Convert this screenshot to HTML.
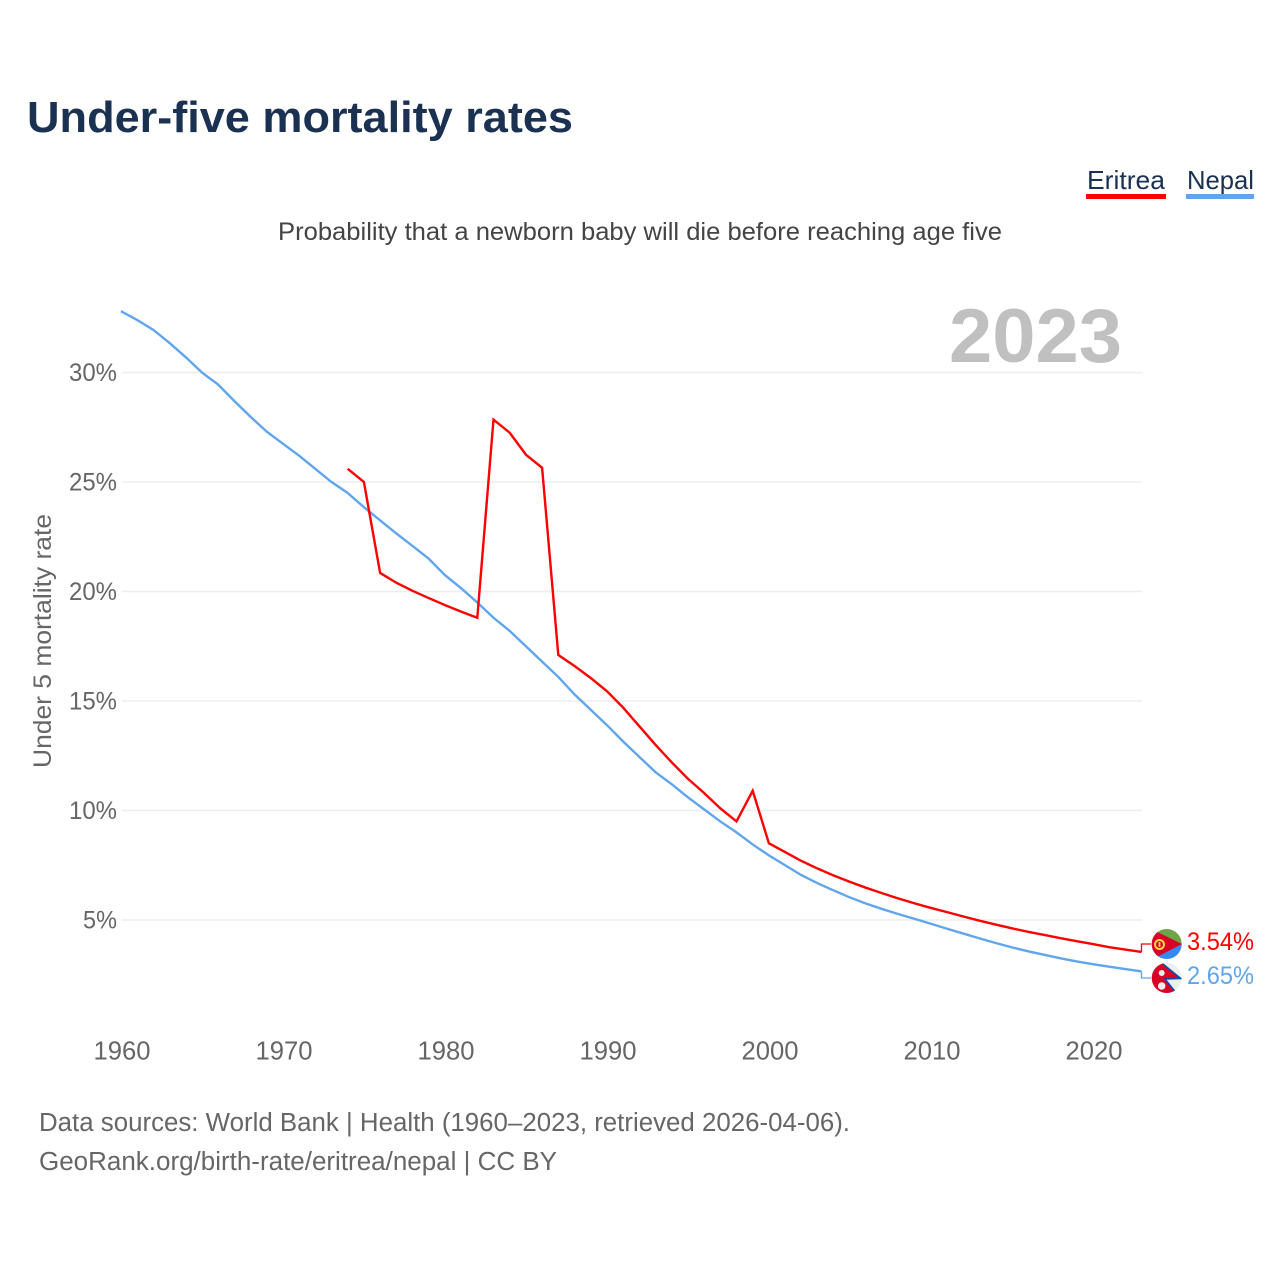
<!DOCTYPE html>
<html lang="en">
<head>
<meta charset="utf-8">
<title>Under-five mortality rates</title>
<style>
html,body{margin:0;padding:0;background:#fff;width:1280px;height:1280px;overflow:hidden}
svg{display:block;font-family:"Liberation Sans",sans-serif}
</style>
</head>
<body>
<svg id="chart" xmlns="http://www.w3.org/2000/svg" width="1280" height="1280" viewBox="0 0 1280 1280">
  <defs>
    <clipPath id="clip-er"><circle cx="1166.7" cy="944" r="15"/></clipPath>
    <clipPath id="clip-np"><circle cx="1166.7" cy="978" r="15"/></clipPath>
  </defs>
  <rect width="1280" height="1280" fill="#fff"/>
  <text x="27" y="132" font-size="44" font-weight="700" fill="#1a3152" textLength="546" lengthAdjust="spacingAndGlyphs">Under-five mortality rates</text>
  <g>
    <text x="1087" y="189" font-size="26" fill="#1a3152" textLength="78" lengthAdjust="spacingAndGlyphs">Eritrea</text>
    <rect x="1086" y="194" width="80" height="5" fill="#ff0000"/>
  </g>
  <g>
    <text x="1187" y="189" font-size="26" fill="#1a3152" textLength="67" lengthAdjust="spacingAndGlyphs">Nepal</text>
    <rect x="1186" y="194" width="68" height="5" fill="#60a5ee"/>
  </g>
  <text x="278" y="240" font-size="25" fill="#444" textLength="724" lengthAdjust="spacingAndGlyphs">Probability that a newborn baby will die before reaching age five</text>
  <text transform="translate(51,641) rotate(-90)" text-anchor="middle" font-size="25" fill="#666" textLength="254" lengthAdjust="spacingAndGlyphs">Under 5 mortality rate</text>
  <g id="grid"></g>
  <g id="yticks"></g>
  <g id="xticks"></g>
  <text x="949" y="362" font-size="76" font-weight="700" fill="#c0c0c0" textLength="173" lengthAdjust="spacingAndGlyphs">2023</text>
  <g id="series"></g>

  <g clip-path="url(#clip-er)">
    <rect x="1151" y="929" width="32" height="16" fill="#6da544"/>
    <rect x="1151" y="944" width="32" height="16" fill="#338af3"/>
    <polygon points="1151,929 1182,944 1151,960" fill="#d80027"/>
    <circle cx="1159.5" cy="944.5" r="4.5" fill="none" stroke="#ffda44" stroke-width="2"/>
    <rect x="1158.6" y="942" width="1.8" height="5" fill="#ffda44"/>
  </g>
  <g clip-path="url(#clip-np)">
    <rect x="1151" y="962" width="32" height="32" fill="#eeeeee"/>
    <polygon points="1150,960 1160.5,962 1180.7,978.5 1165,979 1177,994 1150,996" fill="#d80027" stroke="#0052b4" stroke-width="1.6"/>
    <circle cx="1161.7" cy="973" r="3" fill="#eeeeee"/>
    <circle cx="1161.7" cy="986" r="3.8" fill="#eeeeee"/>
  </g>
  <text x="1187" y="950" font-size="25" fill="#ff0000" textLength="67" lengthAdjust="spacingAndGlyphs">3.54%</text>
  <text x="1187" y="984" font-size="25" fill="#60a5ee" textLength="67" lengthAdjust="spacingAndGlyphs">2.65%</text>

  <text x="39" y="1131" font-size="25.5" fill="#666" textLength="811" lengthAdjust="spacingAndGlyphs">Data sources: World Bank | Health (1960–2023, retrieved 2026-04-06).</text>
  <text x="39" y="1170" font-size="25.5" fill="#666" textLength="518" lengthAdjust="spacingAndGlyphs">GeoRank.org/birth-rate/eritrea/nepal | CC BY</text>
</svg>
<script>
const nepalStartYear = 1960;
const nepalValues = [32.8,32.4,31.95,31.35,30.7,30.0,29.45,28.7,27.98,27.3,26.75,26.2,25.6,25.0,24.5,23.85,23.25,22.65,22.08,21.5,20.75,20.15,19.5,18.8,18.2,17.5,16.8,16.1,15.3,14.6,13.9,13.15,12.45,11.75,11.2,10.6,10.05,9.5,9.0,8.45,7.95,7.5,7.05,6.68,6.35,6.03,5.75,5.5,5.27,5.05,4.83,4.6,4.38,4.16,3.95,3.75,3.57,3.41,3.25,3.11,2.98,2.87,2.76,2.65];
const eritreaStartYear = 1974;
const eritreaValues = [25.6,25.0,20.85,20.4,20.03,19.7,19.38,19.08,18.8,27.85,27.25,26.25,25.65,17.1,16.6,16.05,15.45,14.7,13.85,13.0,12.2,11.45,10.8,10.1,9.5,10.9,8.5,8.1,7.7,7.35,7.03,6.74,6.47,6.22,5.98,5.76,5.55,5.36,5.16,4.97,4.79,4.62,4.46,4.32,4.17,4.03,3.9,3.76,3.65,3.54];
const yTickValues = [5,10,15,20,25,30];
const yTickLabels = ["5%","10%","15%","20%","25%","30%"];
const xTickValues = [1960,1970,1980,1990,2000,2010,2020];
const xTickLabels = ["1960","1970","1980","1990","2000","2010","2020"];

const SVGNS = "http://www.w3.org/2000/svg";
function xScale(year){ return 122 + (year - 1960) * 16.2; }
function lineX(year){ return xScale(year) - 1.1; }
function yScale(value){ return 920 - (value - 5) * 21.9; }
function make(tag, attrs){
  const el = document.createElementNS(SVGNS, tag);
  for (const k in attrs) el.setAttribute(k, attrs[k]);
  return el;
}

const grid = document.getElementById('grid');
const yticks = document.getElementById('yticks');
yTickValues.forEach(function(v, i){
  const line = make('line', {x1: 122, x2: 1142, y1: yScale(v), y2: yScale(v), stroke: '#eeeeee', 'stroke-width': 1.6});
  
  
  grid.appendChild(line);
  const label = yTickLabels[i];
  const t = make('text', {x: 117, y: yScale(v) + 8.5, 'text-anchor': 'end', 'font-size': 25, fill: '#666', textLength: label.length === 3 ? 48 : 34, lengthAdjust: 'spacingAndGlyphs'});
  
  
  t.textContent = label;
  yticks.appendChild(t);
});

const xticks = document.getElementById('xticks');
xTickValues.forEach(function(v, i){
  const t = make('text', {x: xScale(v), y: 1059.5, 'text-anchor': 'middle', 'font-size': 25.5, fill: '#666', textLength: 57, lengthAdjust: 'spacingAndGlyphs'});
  
  
  t.textContent = xTickLabels[i];
  xticks.appendChild(t);
});

function drawSeries(name, startYear, values, color, leaderY){
  const pts = values.map(function(v, i){ return lineX(startYear + i).toFixed(2) + ',' + yScale(v).toFixed(2); });
  const g = document.getElementById('series');
  const line = make('polyline', {points: pts.join(' '), fill: 'none', stroke: color, 'stroke-width': 2.4, 'stroke-linejoin': 'miter'});
  
  
  g.appendChild(line);
  const endX = lineX(startYear + values.length - 1);
  const endY = yScale(values[values.length - 1]);
  const leader = make('polyline', {points: endX + ',' + endY + ' ' + endX + ',' + leaderY + ' 1151,' + leaderY, fill: 'none', stroke: color, 'stroke-width': 1.3});
  
  
  g.appendChild(leader);
}
drawSeries('nepal', nepalStartYear, nepalValues, '#60a5ee', 978);
drawSeries('eritrea', eritreaStartYear, eritreaValues, '#ff0000', 944);
</script>
</body>
</html>
